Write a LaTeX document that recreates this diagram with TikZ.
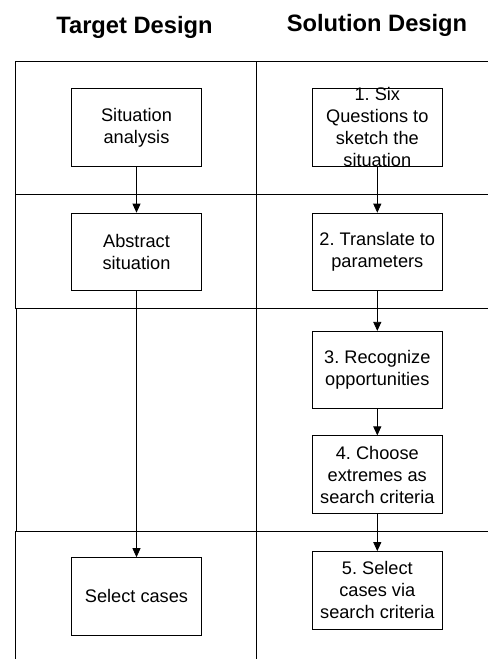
\documentclass[tikz,border=0pt]{standalone}
\usepackage{fontspec}
\setmainfont{Liberation Sans}
\usetikzlibrary{arrows.meta}

% box text: fixed-height centred paragraph, may overflow the frame
\newcommand{\boxtxt}[1]{\parbox[c][60pt][c]{128pt}{\centering\frenchspacing\fontsize{18.2}{22}\selectfont #1}}

\tikzset{
  grid/.style={line width=0.9pt, black},
  stepbox/.style={draw, line width=0.7pt, minimum width=130pt, minimum height=77.5pt, inner sep=0pt, anchor=center},
  flow/.style={line width=0.8pt, -{Triangle[width=8pt,length=9pt]}},
  heading/.style={font=\bfseries\fontsize{23.7}{27}\selectfont, anchor=base, inner sep=0pt}
}

\begin{document}
\begin{tikzpicture}[x=1pt, y=-1pt]
  \useasboundingbox (0,0) rectangle (488,659);

  % column headings
  \node[heading] (th) at (134.5,33) {Target Design};
  \node[heading] (sh) at (377,31.5) {Solution Design};

  % swimlane grid
  \draw[grid] (15,61) -- (488,61);
  \draw[grid] (15,194) -- (488,194);
  \draw[grid] (15,308.7) -- (488,308.7);
  \draw[grid] (15,531) -- (488,531);
  \draw[grid] (15,61) -- (15,308.7);
  \draw[grid] (16,308.7) -- (16,531);
  \draw[grid] (15,531) -- (15,659);
  \draw[grid] (256,61) -- (256,659);

  % target design column
  \node[stepbox] (t1) at (136.5,127.3) {\boxtxt{Situation\\analysis}};
  \node[stepbox] (t2) at (136.5,251.8) {\boxtxt{Abstract\\situation}};
  \node[stepbox] (t3) at (136.5,596.3) {\boxtxt{Select cases}};

  % solution design column
  \node[stepbox] (s1) at (377.3,127.3) {\boxtxt{1. Six\\Questions to\\sketch the\\situation}};
  \node[stepbox] (s2) at (377.3,251.8) {\boxtxt{2. Translate to\\parameters}};
  \node[stepbox] (s3) at (377.3,370) {\boxtxt{3. Recognize\\opportunities}};
  \node[stepbox] (s4) at (377.3,474.5) {\boxtxt{4. Choose\\extremes as\\search criteria}};
  \node[stepbox] (s5) at (377.3,590.2) {\boxtxt{5. Select\\cases via\\search criteria}};

  % flow connectors
  \draw[flow] (t1) -- (t2);
  \draw[flow] (t2) -- (t3);
  \draw[flow] (s1) -- (s2);
  \draw[flow] (s2) -- (s3);
  \draw[flow] (s3) -- (s4);
  \draw[flow] (s4) -- (s5);
\end{tikzpicture}
\end{document}
